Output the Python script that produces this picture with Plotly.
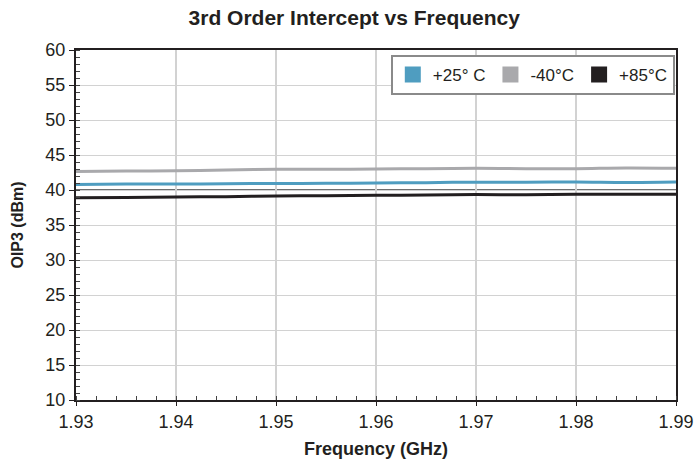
import plotly.graph_objects as go

freq = [1.930, 1.935, 1.940, 1.945, 1.950, 1.955, 1.960, 1.965, 1.970, 1.975, 1.980, 1.985, 1.990]
oip3_p25 = [40.80, 40.85, 40.84, 40.90, 40.92, 40.95, 41.00, 41.05, 41.12, 41.10, 41.15, 41.08, 41.15]
oip3_m40 = [42.65, 42.70, 42.75, 42.85, 42.95, 42.95, 43.00, 43.05, 43.10, 43.05, 43.05, 43.15, 43.10]
oip3_p85 = [38.90, 38.92, 39.00, 39.05, 39.15, 39.18, 39.25, 39.28, 39.35, 39.32, 39.38, 39.40, 39.40]
series_names = ["+25° C", "-40°C", "+85°C"]
colors = ["#4f9dc0", "#a9a9ac", "#231f20"]
x_ticks = [1.93, 1.94, 1.95, 1.96, 1.97, 1.98, 1.99]
y_ticks = [10, 15, 20, 25, 30, 35, 40, 45, 50, 55, 60]

fig = go.Figure()
for ys, name, c in zip([oip3_p25, oip3_m40, oip3_p85], series_names, colors):
    fig.add_trace(go.Scatter(x=freq, y=ys, mode="lines", line=dict(color=c, width=3, shape="spline"),
                             showlegend=False, hoverinfo="skip"))
for name, c in zip(series_names, colors):
    fig.add_trace(go.Scatter(x=[None], y=[None], mode="markers", name=name,
                             marker=dict(symbol="square", size=16, color=c)))

fig.add_shape(type="line", xref="paper", yref="y", x0=0, x1=1, y0=40, y1=40,
              line=dict(color="#6e6e6e", width=2), layer="below")

fig.update_layout(
    width=696, height=461,
    margin=dict(l=76, r=20, t=50, b=61),
    paper_bgcolor="white", plot_bgcolor="white",
    title=dict(text="<b>3rd Order Intercept vs Frequency</b>", x=0.509, xanchor="center", y=0.961, yanchor="middle",
               font=dict(family="Liberation Sans, Arial", size=21, color="#231f20")),
    font=dict(family="Liberation Sans, Arial", color="#231f20"),
    legend=dict(x=0.998, xanchor="right", y=0.986, yanchor="top", orientation="h",
                bordercolor="#8a8a8a", borderwidth=2, bgcolor="white",
                font=dict(size=17, color="#231f20"), itemwidth=30, tracegroupgap=0),
    showlegend=True,
)
fig.update_xaxes(
    range=[1.93, 1.99], tickvals=x_ticks, ticktext=[f"{v:.2f}" for v in x_ticks],
    showgrid=True, gridcolor="#d2d2d2", gridwidth=2,
    showline=True, linecolor="#231f20", linewidth=2, mirror=True,
    ticks="outside", ticklen=4, tickcolor="#231f20",
    minor=dict(dtick=0.002, tick0=1.93, ticks="inside", ticklen=4, tickcolor="#444", showgrid=False),
    tickfont=dict(size=18), zeroline=False, automargin=False,
    title=dict(text="<b>Frequency (GHz)</b>", font=dict(family="Liberation Sans, Arial", size=18), standoff=12),
)
fig.update_yaxes(
    range=[10, 60], tickvals=y_ticks, ticktext=[str(v) for v in y_ticks],
    showgrid=True, gridcolor="#d2d2d2", gridwidth=1,
    showline=True, linecolor="#231f20", linewidth=2, mirror=True,
    ticks="outside", ticklen=5, tickcolor="#231f20",
    minor=dict(dtick=1, tick0=10, ticks="inside", ticklen=4, tickcolor="#444", showgrid=False),
    tickfont=dict(size=18), zeroline=False, automargin=False,
    title=dict(text="<b>OIP3 (dBm)</b>", font=dict(family="Liberation Sans, Arial", size=16), standoff=18),
)

fig.write_html("out.html", config={"displayModeBar": False},
               post_script="document.body.style.margin='0';")
